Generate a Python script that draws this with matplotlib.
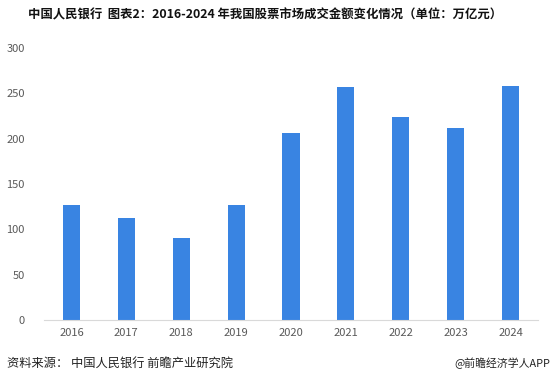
import matplotlib
matplotlib.use("Agg")
import matplotlib.pyplot as plt

plt.rcParams['font.family'] = ['Noto Sans CJK SC', 'DejaVu Sans']

years = ["2016", "2017", "2018", "2019", "2020", "2021", "2022", "2023", "2024"]
values = [127.0, 112.0, 90.0, 127.0, 206.0, 257.0, 224.0, 212.0, 258.0]
yticks = [0, 50, 100, 150, 200, 250, 300]

title = "中国人民银行  图表2：2016-2024 年我国股票市场成交金额变化情况（单位：万亿元）"
source = "资料来源： 中国人民银行 前瞻产业研究院"
brand = "@前瞻经济学人APP"

fig = plt.figure(figsize=(5.56, 3.78), dpi=100)
ax = fig.add_axes([44/556, 1-320/378, 494/556, 272/378])

x = list(range(len(years)))
ax.bar(x, values, width=0.31, color="#3984E2", zorder=2)
ax.set_xlim(-0.5, len(years) - 0.5)
ax.set_ylim(0, 300)
ax.set_yticks(yticks)
ax.set_xticks(x)
ax.set_xticklabels(years)
for s in ["top", "right", "left"]:
    ax.spines[s].set_visible(False)
ax.spines["bottom"].set_color("#d9d9d9")
ax.tick_params(axis="both", length=0, colors="#595959", labelsize=8)
ax.tick_params(axis="y", pad=14)
ax.tick_params(axis="x", pad=6)

fig.text(28/556, 1-15/378, title, fontsize=8.9, fontweight="bold", va="center", ha="left", color="#111111")
fig.text(7/556, 1-363/378, source, fontsize=8.8, va="center", ha="left", color="#222222")
fig.text(550/556, 1-363/378, brand, fontsize=7.8, va="center", ha="right", color="#222222")

fig.savefig("out.png", dpi=100)
